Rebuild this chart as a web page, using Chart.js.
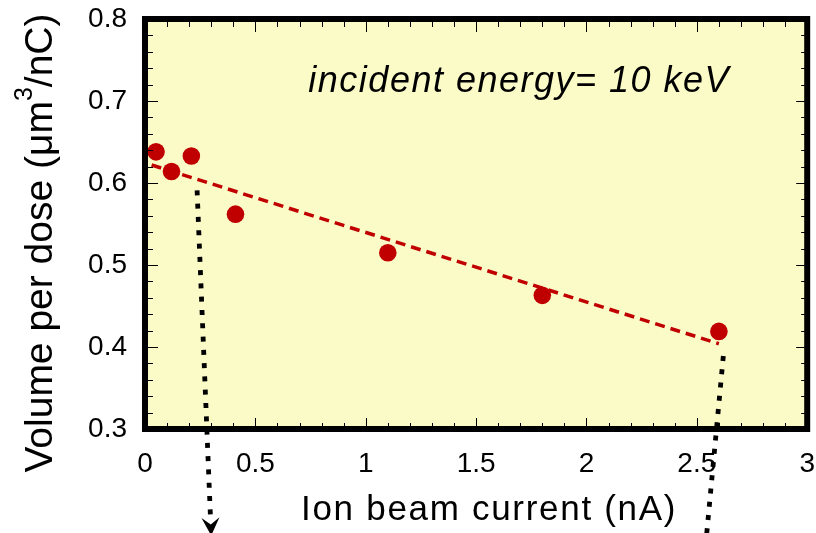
<!DOCTYPE html>
<html>
<head>
<meta charset="utf-8">
<script src="https://cdn.jsdelivr.net/npm/chart.js@4.4.0/dist/chart.umd.min.js"></script>
<style>
  html, body { margin: 0; padding: 0; background: #fff; }
  #volumeChart { display: block; }
</style>
</head>
<body>
<canvas id="volumeChart" width="816" height="533"></canvas>
<script>
// Measured points: ion beam current (nA) vs. volume removed per dose
var currentNA = [0.05, 0.12, 0.21, 0.41, 1.10, 1.80, 2.60];
var volumePerDose = [0.638, 0.614, 0.633, 0.562, 0.515, 0.463, 0.419];

// Linear fit, given by its two end points
var fitCurrent = [0.03, 2.60];
var fitVolume = [0.622, 0.404];

// Labelled ticks on each axis
var xTickValues = [0, 0.5, 1, 1.5, 2, 2.5, 3];
var yTickValues = [0.3, 0.4, 0.5, 0.6, 0.7, 0.8];

// Dotted pointers leaving the plot: [start, end] in axis units
var pointerCurrent = [[0.236, 0.30], [2.62, 2.53]];
var pointerVolume = [[0.591, 0.17], [0.389, 0.13]];

var xTitle = 'Ion beam current (nA)';
var yTitleParts = ['Volume per dose (\u03bcm', '3', '/nC)'];
var noteText = 'incident energy= 10 keV';
var noteAt = [0.74, 0.711];

var SANS = '"Liberation Sans", Arial, Helvetica, sans-serif';
var RED = '#c00000';
var PLOT_BG = '#fbfbc8';

function toPoints(xs, ys) {
    return xs.map(function(x, i) {
        return {x: x, y: ys[i]};
    });
}

// Inward tick marks on all four sides, major ones at the labelled values
function drawTicks(chart) {
    var ctx = chart.ctx, a = chart.chartArea;
    var xs = chart.scales.x, ys = chart.scales.y;
    var i, px, len;
    ctx.save();
    ctx.strokeStyle = '#000';
    ctx.lineWidth = 1;
    ctx.beginPath();
    for (i = 0; i <= 30; i++) {
        px = Math.round(xs.getPixelForValue(i / 10)) + 0.5;
        len = (i % 5 === 0) ? 13 : 8;
        ctx.moveTo(px, a.top);
        ctx.lineTo(px, a.top + len);
        ctx.moveTo(px, a.bottom);
        ctx.lineTo(px, a.bottom - len + 2);
    }
    for (i = 0; i <= 25; i++) {
        px = Math.round(ys.getPixelForValue(0.3 + i * 0.02)) + 0.5;
        len = (i % 5 === 0) ? 13 : 8;
        ctx.moveTo(a.left, px);
        ctx.lineTo(a.left + len, px);
        ctx.moveTo(a.right, px);
        ctx.lineTo(a.right - len + 2, px);
    }
    ctx.stroke();
    ctx.restore();
}

function drawBorder(chart) {
    var ctx = chart.ctx, a = chart.chartArea;
    ctx.save();
    ctx.strokeStyle = '#000';
    ctx.lineWidth = 6;
    ctx.strokeRect(a.left, a.top, a.right - a.left, a.bottom - a.top);
    ctx.restore();
}

function drawNote(chart) {
    var ctx = chart.ctx;
    ctx.save();
    ctx.font = 'italic 36px ' + SANS;
    ctx.letterSpacing = '1.5px';
    ctx.fillStyle = '#000';
    ctx.textAlign = 'left';
    ctx.textBaseline = 'alphabetic';
    ctx.fillText(noteText, chart.scales.x.getPixelForValue(noteAt[0]), chart.scales.y.getPixelForValue(noteAt[1]));
    ctx.restore();
}

function drawTitles(chart) {
    var ctx = chart.ctx, a = chart.chartArea;
    ctx.save();
    ctx.fillStyle = '#000';
    ctx.textBaseline = 'alphabetic';

    // x title under the tick labels
    ctx.font = '35px ' + SANS;
    ctx.letterSpacing = '1.7px';
    ctx.textAlign = 'center';
    ctx.fillText(xTitle, (a.left + a.right) / 2 + 13, chart.height - 13);

    // y title, rotated, with a raised exponent
    ctx.letterSpacing = '0px';
    ctx.textAlign = 'left';
    var mainFont = '39px ' + SANS, supFont = '25px ' + SANS;
    ctx.font = mainFont;
    var w0 = ctx.measureText(yTitleParts[0]).width;
    var w2 = ctx.measureText(yTitleParts[2]).width;
    ctx.font = supFont;
    var w1 = ctx.measureText(yTitleParts[1]).width;
    var total = w0 + w1 + w2;
    ctx.translate(52, (a.top + a.bottom) / 2 + 19);
    ctx.rotate(-Math.PI / 2);
    var x0 = -total / 2;
    ctx.font = mainFont;
    ctx.fillText(yTitleParts[0], x0, 0);
    ctx.font = supFont;
    ctx.fillText(yTitleParts[1], x0 + w0, -20);
    ctx.font = mainFont;
    ctx.fillText(yTitleParts[2], x0 + w0 + w1, 0);
    ctx.restore();
}

// Dotted arrows running from the fit line down past the x axis
function drawPointers(chart) {
    var ctx = chart.ctx, xs = chart.scales.x, ys = chart.scales.y;
    ctx.save();
    ctx.strokeStyle = '#000';
    ctx.fillStyle = '#000';
    for (var i = 0; i < pointerCurrent.length; i++) {
        var x0 = xs.getPixelForValue(pointerCurrent[i][0]);
        var y0 = ys.getPixelForValue(pointerVolume[i][0]);
        var x1 = xs.getPixelForValue(pointerCurrent[i][1]);
        var y1 = ys.getPixelForValue(pointerVolume[i][1]);
        var len = Math.hypot(x1 - x0, y1 - y0);
        var dx = (x1 - x0) / len, dy = (y1 - y0) / len;
        ctx.lineWidth = 4.8;
        ctx.lineCap = 'butt';
        ctx.setLineDash([5, 8.3]);
        ctx.beginPath();
        ctx.moveTo(x0, y0);
        ctx.lineTo(x1 - dx * 14, y1 - dy * 14);
        ctx.stroke();
        ctx.setLineDash([]);
        ctx.beginPath();
        ctx.moveTo(x1, y1);
        ctx.lineTo(x1 - dx * 18 - dy * 9, y1 - dy * 18 + dx * 9);
        ctx.lineTo(x1 - dx * 11, y1 - dy * 11);
        ctx.lineTo(x1 - dx * 18 + dy * 9, y1 - dy * 18 - dx * 9);
        ctx.closePath();
        ctx.fill();
    }
    ctx.restore();
}

var plotFrame = {
    id: 'plotFrame',
    beforeDatasetsDraw: function(chart) {
        var a = chart.chartArea, ctx = chart.ctx;
        ctx.save();
        ctx.fillStyle = PLOT_BG;
        ctx.fillRect(a.left, a.top, a.right - a.left, a.bottom - a.top);
        ctx.restore();
    },
    afterDatasetsDraw: function(chart) {
        drawTicks(chart);
        drawBorder(chart);
        drawNote(chart);
    },
    afterDraw: function(chart) {
        drawTitles(chart);
        drawPointers(chart);
    }
};

var tickFont = {family: SANS, size: 28};

new Chart(document.getElementById('volumeChart').getContext('2d'), {
    type: 'scatter',
    data: {
        datasets: [{
            label: 'fit',
            data: toPoints(fitCurrent, fitVolume),
            showLine: true,
            borderColor: RED,
            borderWidth: 3.5,
            borderDash: [10, 6],
            pointRadius: 0,
            fill: false,
            order: 1
        }, {
            label: 'measured',
            data: toPoints(currentNA, volumePerDose),
            showLine: false,
            backgroundColor: RED,
            borderColor: RED,
            borderWidth: 0,
            pointRadius: 8.8,
            pointHoverRadius: 8.8,
            order: 0
        }]
    },
    options: {
        responsive: false,
        animation: false,
        devicePixelRatio: 1,
        layout: {padding: {top: 19, right: 6, bottom: 0, left: 0}},
        plugins: {
            legend: {display: false},
            tooltip: {enabled: false}
        },
        scales: {
            x: {
                type: 'linear',
                min: 0,
                max: 3,
                grid: {display: false, drawTicks: false},
                border: {display: false},
                ticks: {
                    font: tickFont,
                    color: '#000',
                    padding: 18,
                    maxRotation: 0,
                    autoSkip: false,
                    callback: function(v) { return String(v); }
                },
                afterBuildTicks: function(s) {
                    s.ticks = xTickValues.map(function(v) { return {value: v}; });
                },
                afterFit: function(s) {
                    s.height = 104;
                    s.paddingLeft = 0;
                    s.paddingRight = 0;
                }
            },
            y: {
                type: 'linear',
                min: 0.3,
                max: 0.8,
                grid: {display: false, drawTicks: false},
                border: {display: false},
                ticks: {
                    font: tickFont,
                    color: '#000',
                    padding: 18,
                    autoSkip: false,
                    callback: function(v) { return v.toFixed(1); }
                },
                afterBuildTicks: function(s) {
                    s.ticks = yTickValues.map(function(v) { return {value: v}; });
                },
                afterFit: function(s) {
                    s.width = 145;
                    s.paddingTop = 0;
                    s.paddingBottom = 0;
                }
            }
        }
    },
    plugins: [plotFrame]
});
</script>
</body>
</html>
